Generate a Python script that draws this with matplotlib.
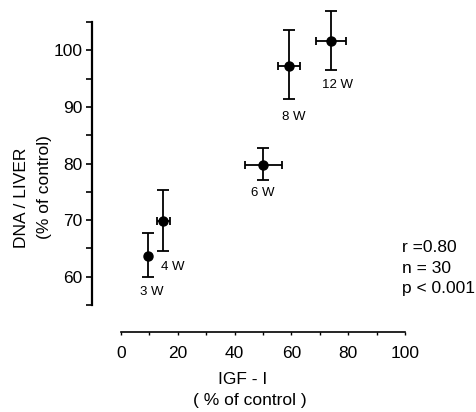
import matplotlib
matplotlib.use("Agg")
import matplotlib.pyplot as plt
from matplotlib.ticker import MultipleLocator

plt.rcParams['font.family'] = ['Liberation Sans', 'DejaVu Sans']

weeks = ['3 W', '4 W', '6 W', '8 W', '12 W']
igf = [9.4, 14.9, 50.1, 59.2, 73.8]
igf_err = [0.0, 2.3, 6.5, 3.8, 5.3]
dna = [63.7, 69.8, 79.8, 97.3, 101.6]
dna_err_low = [3.7, 5.3, 2.7, 5.9, 5.1]
dna_err_high = [4.1, 5.6, 3.0, 6.2, 5.4]
label_pos = [(10.9, 57.3), (18.3, 61.7), (50.0, 74.8), (60.9, 88.2), (76.1, 93.9)]
x_ticks = [0, 20, 40, 60, 80, 100]
y_ticks = [60, 70, 80, 90, 100]
stats = ['r =0.80', 'n = 30', 'p < 0.001']

fig = plt.figure(figsize=(4.77, 4.12), dpi=100)
ax = fig.add_axes([0.2537, 0.2597, 0.5954, 0.6869])
ax.set_xlim(0, 100)
ax.set_ylim(55, 105)

# vertical error bars
ax.errorbar(igf, dna, yerr=[dna_err_low, dna_err_high], fmt='none',
            ecolor='black', elinewidth=1.3, capsize=4.5, capthick=1.3, clip_on=False)
# horizontal error bars
ax.errorbar(igf, dna, xerr=igf_err, fmt='none',
            ecolor='black', elinewidth=1.3, capsize=3, capthick=1.3, clip_on=False)
ax.plot(igf, dna, 'o', color='black', markersize=6.5, clip_on=False, zorder=5)

for w, (lx, ly) in zip(weeks, label_pos):
    ax.text(lx, ly, w, fontsize=9.5, ha='center', va='center')

for s in ['top', 'right']:
    ax.spines[s].set_visible(False)
ax.spines['left'].set_position(('outward', 21))
ax.spines['left'].set_bounds(55, 105)
ax.spines['left'].set_linewidth(1.6)
ax.spines['bottom'].set_position(('outward', 19.5))
ax.spines['bottom'].set_bounds(0, 100)
ax.spines['bottom'].set_linewidth(1.2)

ax.set_xticks(x_ticks)
ax.xaxis.set_minor_locator(MultipleLocator(10))
ax.set_yticks(y_ticks)
ax.yaxis.set_minor_locator(MultipleLocator(5))
ax.tick_params(axis='x', which='both', direction='out', length=2.5, width=1.0,
               labelsize=12.5, pad=7.5)
ax.tick_params(axis='y', which='both', direction='out', length=4.5, width=1.2,
               labelsize=12.5, pad=2)

fig.text(0.046, 0.52, 'DNA / LIVER', rotation=90, ha='center', va='center', fontsize=12.5)
fig.text(0.094, 0.546, '(% of control)', rotation=90, ha='center', va='center', fontsize=12.5)
fig.text(0.509, 0.078, 'IGF - I', ha='center', va='center', fontsize=12.5)
fig.text(0.524, 0.029, '( % of control )', ha='center', va='center', fontsize=12.5)

for i, s in enumerate(stats):
    fig.text(0.843, 0.388 - i * 0.05, s, ha='left', va='baseline', fontsize=12.5)

fig.savefig('out.png', dpi=100)
